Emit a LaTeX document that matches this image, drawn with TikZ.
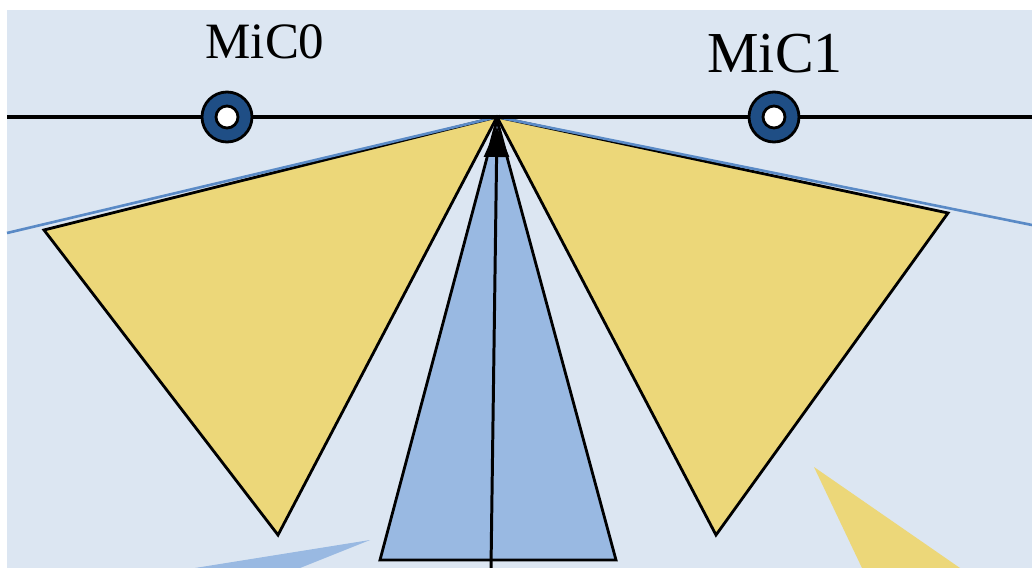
\documentclass[tikz,border=0pt]{standalone}
\usepackage{fontspec}
\setmainfont{Liberation Serif}
\usetikzlibrary{arrows.meta}
\definecolor{fond}{HTML}{DCE6F2}
\definecolor{jaune}{HTML}{ECD779}
\definecolor{bleuc}{HTML}{99B9E2}
\definecolor{bleul}{HTML}{5A8AC6}
\definecolor{bleuf}{HTML}{1F4E85}
\begin{document}
\begin{tikzpicture}[x=0.02cm, y=-0.02cm,
  micro/.style={draw=black, line width=1.6pt, circle, fill=bleuf, minimum size=10mm, inner sep=0pt},
  trou/.style={draw=black, line width=1.6pt, circle, fill=white, minimum size=4.4mm, inner sep=0pt},
  lobe/.style={draw=black, line width=1.6pt, fill=jaune, line join=miter}]
\useasboundingbox (0,0) rectangle (1032,568);
% Fond
\fill[fond] (7,10) rectangle (1032,568);
% Sommets
\coordinate (apex) at (497,117);
\coordinate (g) at (7,117);
\coordinate (d) at (1032,117);
% Lobes jaunes
\draw[lobe] (apex) -- (44,230) -- (278,535) -- cycle;
\draw[lobe] (apex) -- (948,213) -- (716,535) -- cycle;
% Droites bleues
\draw[bleul, line width=1.5pt] (7,233) -- (apex) -- (1032,225);
% Faisceau central
\draw[draw=black, line width=1.6pt, fill=bleuc] (497,120) -- (380,560) -- (616,560) -- cycle;
% Lobes partiels
\fill[bleuc] (370,540) -- (195,568) -- (300,568) -- cycle;
\fill[jaune] (814,467) -- (862,568) -- (960,568) -- cycle;
% Axe
\draw[line width=2.4pt] (g) -- (d);
% Micros
\node[micro] (mic0) at (227,117) {};
\node[trou] at (mic0) {};
\node[micro] (mic1) at (774,117) {};
\node[trou] at (mic1) {};
\node[anchor=base, inner sep=0pt, font=\fontsize{29}{29}\selectfont] (l0) at (265,58) {MiC0};
\node[anchor=base, inner sep=0pt, font=\fontsize{33}{33}\selectfont] (l1) at (775,72) {MiC1};
% Direction
\coordinate (bas) at (491,568);
\draw[line width=1.7pt, -{Triangle[length=6mm, width=5mm]}] (bas) -- (497,127);
\end{tikzpicture}
\end{document}
